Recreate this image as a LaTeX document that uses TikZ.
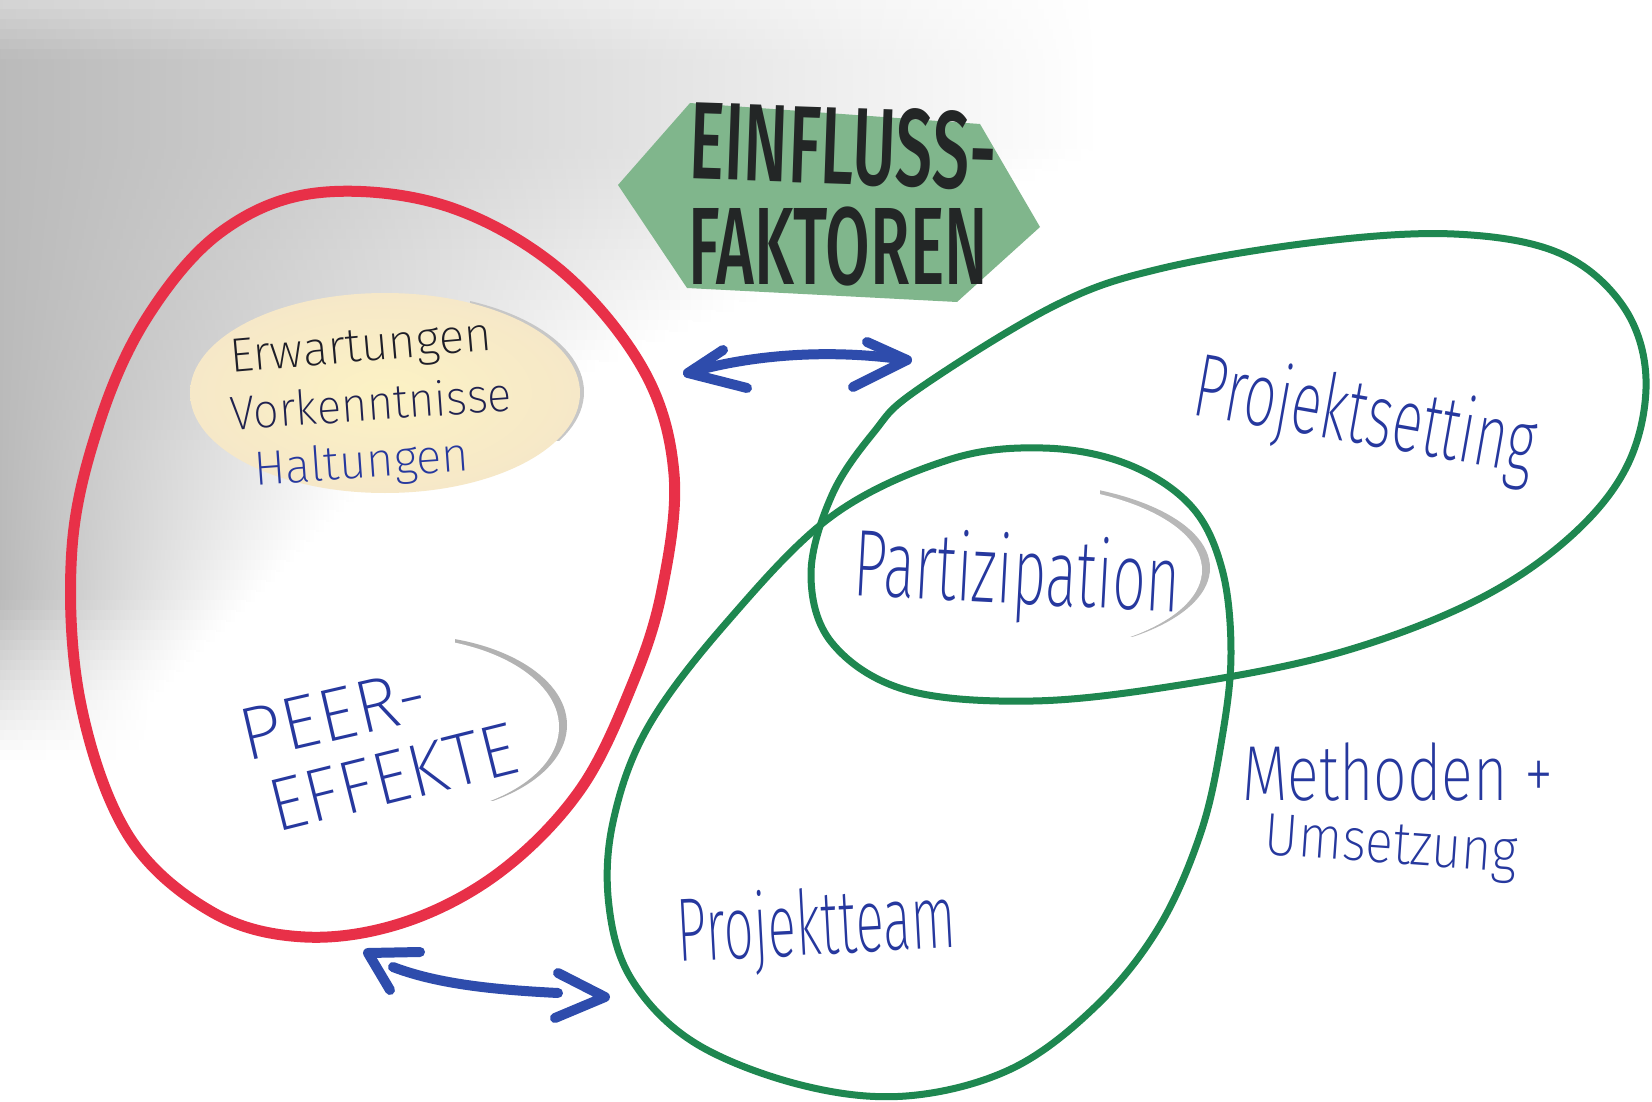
\documentclass[tikz,border=0pt]{standalone}
\usepackage{fontspec}
\setmainfont{Fira Sans}
\newfontfamily\handfont{Fira Sans}[UprightFont={* ExtraLight}]
\newfontfamily\titlefont{Fira Sans}[UprightFont={* Medium}]
\usetikzlibrary{shapes.geometric}
\definecolor{inkblue}{RGB}{38,56,158}
\definecolor{inkblack}{RGB}{30,30,40}
\definecolor{inknavy}{RGB}{32,34,80}
\definecolor{titleblack}{RGB}{35,38,38}
\definecolor{arrowblue}{RGB}{46,76,172}
\definecolor{redline}{RGB}{232,48,72}
\definecolor{greenline}{RGB}{30,135,80}
\definecolor{signgreen}{RGB}{128,182,140}
\definecolor{paperyellow}{RGB}{252,242,196}
\definecolor{paperedge}{RGB}{246,232,200}
\newlength\hwlen
\newcommand\handtxt[3]{{\fontsize{#2}{#2}\selectfont\settowidth\hwlen{#3}%
  \pgfmathsetmacro\hwratio{#1/\hwlen}%
  \edef\hwdo{\noexpand\addfontfeature{FakeStretch=\hwratio}}\hwdo #3}}
\begin{document}
\begin{tikzpicture}[x=1pt,y=-1pt,
  redloop/.style={draw=redline, line width=11pt, line join=round},
  greenloop/.style={draw=greenline, line width=7pt},
  handblue/.style={inner sep=0pt, text=inkblue, font=\handfont},
  handblack/.style={inner sep=0pt, text=inkblack, font=\handfont},
  handnavy/.style={inner sep=0pt, text=inknavy, font=\handfont},
  titletext/.style={inner sep=0pt, text=titleblack, font=\titlefont},
  bluearrow/.style={draw=arrowblue, line width=10pt, line cap=round, line join=round},
  paper/.style={ellipse, inner sep=0pt},
]
\useasboundingbox (0,0) rectangle (1652,1102);
% background
\fill[white] (0,0) rectangle (1652,1102);
\foreach \i in {0,...,77}{
  \pgfmathsetmacro\yy{10*\i+5}
  \pgfmathsetmacro\ww{max(150,1100-max(0,min(\yy,450)-150)*2.33-max(0,\yy-450)*1.0)}
  \pgfmathsetmacro\ii{min(1,0.6+\yy/150)*max(0,min(1,1-(\yy-600)/160))}
  \pgfmathsetmacro\kl{27*\ii}
  \pgfmathsetmacro\km{7*\ii}
  \shade[left color=black!\kl, middle color=black!\km, right color=white] (0,{10*\i}) rectangle (\ww,{10*\i+11});
}
% sign
\fill[signgreen] (618,185) -- (690,103) -- (980,124) -- (1040,227) -- (957,302) -- (687,288) -- cycle;
% papers
\begin{scope}
  \clip (470,280) rectangle (600,440);
  \node[paper, minimum width=390pt, minimum height=200pt, fill=black!22] (erwshadow) at (389,392) {};
\end{scope}
\node[paper, minimum width=390pt, minimum height=200pt, inner color=paperyellow, outer color=paperedge] (erwpaper) at (385,393) {};
\begin{scope}
  \clip (455,600) rectangle (600,800);
  \node[paper, minimum width=320pt, minimum height=180pt, fill=black!30] (peershadow) at (407,725) {};
\end{scope}
\node[paper, minimum width=320pt, minimum height=180pt, fill=white] (peerpaper) at (399,727) {};
\begin{scope}
  \clip (1100,450) rectangle (1260,636);
  \node[paper, minimum width=386pt, minimum height=172pt, fill=black!28] (partshadow) at (1017,568) {};
\end{scope}
\node[paper, minimum width=386pt, minimum height=172pt, fill=white] (partpaper) at (1009,570) {};
% loops
\draw[redloop] plot[smooth cycle, tension=0.6] coordinates {(316,193) (443,205) (558,268) (643,369) (674,474) (662,590) (632,685) (580,790) (500,872) (405,922) (305,937) (212,912) (128,835) (80,700) (72,548) (100,421) (148,316) (221,232)};
\draw[greenloop] plot[smooth cycle, tension=0.6] coordinates {(811,574) (832,495) (874,432) (917,390) (1054,306) (1159,269) (1317,242) (1454,234) (1559,253) (1623,306) (1646,379) (1628,464) (1570,537) (1475,601) (1338,653) (1180,685) (1033,701) (906,690) (832,643)};
\draw[greenloop] plot[smooth cycle, tension=0.6] coordinates {(1043,448) (1127,464) (1191,506) (1222,569) (1231,653) (1222,738) (1201,832) (1159,927) (1096,1006) (1011,1069) (906,1096) (801,1085) (695,1043) (632,980) (609,906) (613,822) (648,727) (727,622) (832,516) (948,460)};
% title
\node[titletext, rotate=-2] (title1) at (843,146) {\handtxt{307}{110}{EINFLUSS-}};
\node[titletext] (title2) at (838,246) {\handtxt{300}{110}{FAKTOREN}};
% texts
\node[handblack, rotate=5] (erw) at (361,350) {\handtxt{263}{48}{Erwartungen}};
\node[handnavy, rotate=4] (vork) at (371,403) {\handtxt{282}{48}{Vorkenntnisse}};
\node[handblue, rotate=4] (halt) at (362,465) {\handtxt{215}{48}{Haltungen}};
\node[handblue, rotate=13] (peer) at (333,715) {\handtxt{190}{75}{PEER-}};
\node[handblue, rotate=14] (effekte) at (393,777) {\handtxt{253}{75}{EFFEKTE}};
\node[handblue, rotate=-10] (setting) at (1365,420) {\handtxt{345}{90}{Projektsetting}};
\node[handblue, rotate=-3] (partizipation) at (1017,578) {\handtxt{327}{95}{Partizipation}};
\node[handblue] (methoden) at (1398,772) {\handtxt{311}{78}{Methoden +}};
\node[handblue, rotate=-4] (umsetzung) at (1391,849) {\handtxt{253}{60}{Umsetzung}};
\node[handblue, rotate=3] (team) at (817,930) {\handtxt{279}{90}{Projektteam}};
% arrows
\coordinate (aTopL) at (688,373);
\coordinate (aTopR) at (907,360);
\coordinate (aTopLu) at (723,350);
\coordinate (aTopLd) at (747,388);
\coordinate (aTopRu) at (867,342);
\coordinate (aTopRd) at (853,387);
\draw[bluearrow] (aTopL) .. controls (760,352) and (840,350) .. (aTopR);
\draw[bluearrow] (aTopLu) -- (aTopL) -- (aTopLd);
\draw[bluearrow] (aTopRu) -- (aTopR) -- (aTopRd);
\coordinate (aBotL) at (368,953);
\coordinate (aBotLu) at (420,952);
\coordinate (aBotLd) at (390,990);
\coordinate (aBotS) at (393,967);
\coordinate (aBotE) at (558,993);
\coordinate (aBotR) at (605,997);
\coordinate (aBotRu) at (558,973);
\coordinate (aBotRd) at (555,1018);
\draw[bluearrow] (aBotS) .. controls (440,985) and (500,990) .. (aBotE);
\draw[bluearrow] (aBotLu) -- (aBotL) -- (aBotLd);
\draw[bluearrow] (aBotRu) -- (aBotR) -- (aBotRd);
\end{tikzpicture}
\end{document}
